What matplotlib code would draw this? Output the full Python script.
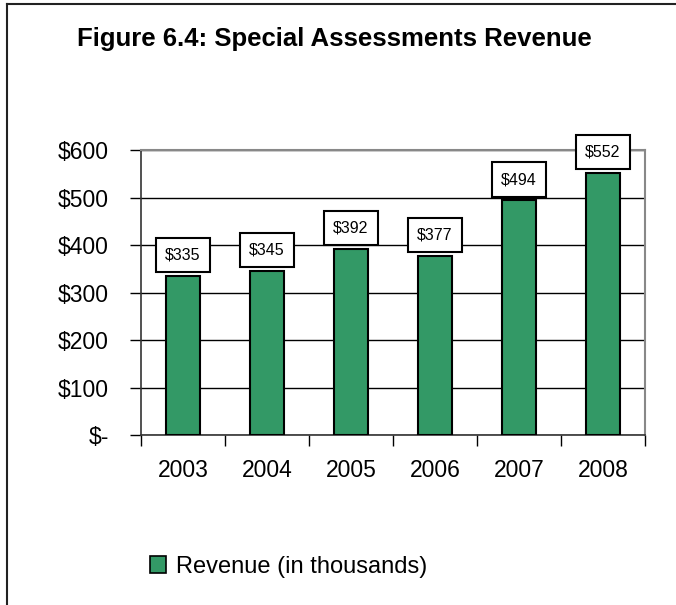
import matplotlib.pyplot as plt
import numpy as np
from matplotlib.lines import Line2D
from matplotlib.patches import Patch

plt.rcParams['font.family'] = ['Liberation Sans', 'DejaVu Sans']

# chart data
years = ['2003', '2004', '2005', '2006', '2007', '2008']
revenue = [335, 345, 392, 377, 494, 552]
yticks = [0, 100, 200, 300, 400, 500, 600]
ytick_labels = ['$-', '$100', '$200', '$300', '$400', '$500', '$600']

green = '#339966'

fig = plt.figure(figsize=(6.76, 6.05), dpi=100)
ax = fig.add_axes([0.2086, 0.281, 0.7455, 0.471])

x = np.arange(len(years))
ax.bar(x, revenue, width=0.4, color=green, edgecolor='black', linewidth=1.5, zorder=3)

ax.set_xlim(-0.5, len(years) - 0.5)
ax.set_ylim(0, 600)

# gridlines
ax.set_yticks(yticks)
ax.set_yticklabels(ytick_labels, fontsize=16.5)
ax.yaxis.grid(True, color='black', linewidth=1)
ax.set_axisbelow(True)
ax.tick_params(axis='y', direction='out', length=8, width=1, pad=15)

ax.set_xticks(x)
ax.set_xticklabels(years, fontsize=16.5)
ax.set_xticks(np.arange(-0.5, len(years)), minor=True)
ax.tick_params(axis='x', which='major', length=0, pad=17)
ax.tick_params(axis='x', which='minor', direction='out', length=8, width=1)

for side in ['top', 'right']:
    ax.spines[side].set_color('#888888')
    ax.spines[side].set_linewidth(1.5)
for side in ['left', 'bottom']:
    ax.spines[side].set_color('#333333')
    ax.spines[side].set_linewidth(1.2)

# value labels in boxes
for xi, v in zip(x, revenue):
    ax.annotate('$%d' % v, xy=(xi, v), xytext=(0, 15), textcoords='offset points',
                ha='center', va='center', fontsize=11.5, annotation_clip=False,
                bbox=dict(boxstyle='square,pad=0.6', facecolor='white',
                          edgecolor='black', linewidth=1.5),
                zorder=5)

fig.text(0.495, 0.935, 'Figure 6.4: Special Assessments Revenue',
         ha='center', va='center', fontsize=18.5, fontweight='bold')

handles = [Patch(facecolor=green, edgecolor='black', linewidth=1.2)]
fig.legend(handles, ['Revenue (in thousands)'], loc='center left',
           bbox_to_anchor=(0.19, 0.063), frameon=False, fontsize=17,
           handlelength=0.7, handleheight=0.7, handletextpad=0.4)

# outer border (left and top only)
fig.add_artist(Line2D([0.011, 0.011], [0, 0.993], color='#222222', linewidth=1.5,
                      transform=fig.transFigure))
fig.add_artist(Line2D([0.011, 1.0], [0.993, 0.993], color='#222222', linewidth=1.5,
                      transform=fig.transFigure))

fig.savefig('out.png', dpi=100)
